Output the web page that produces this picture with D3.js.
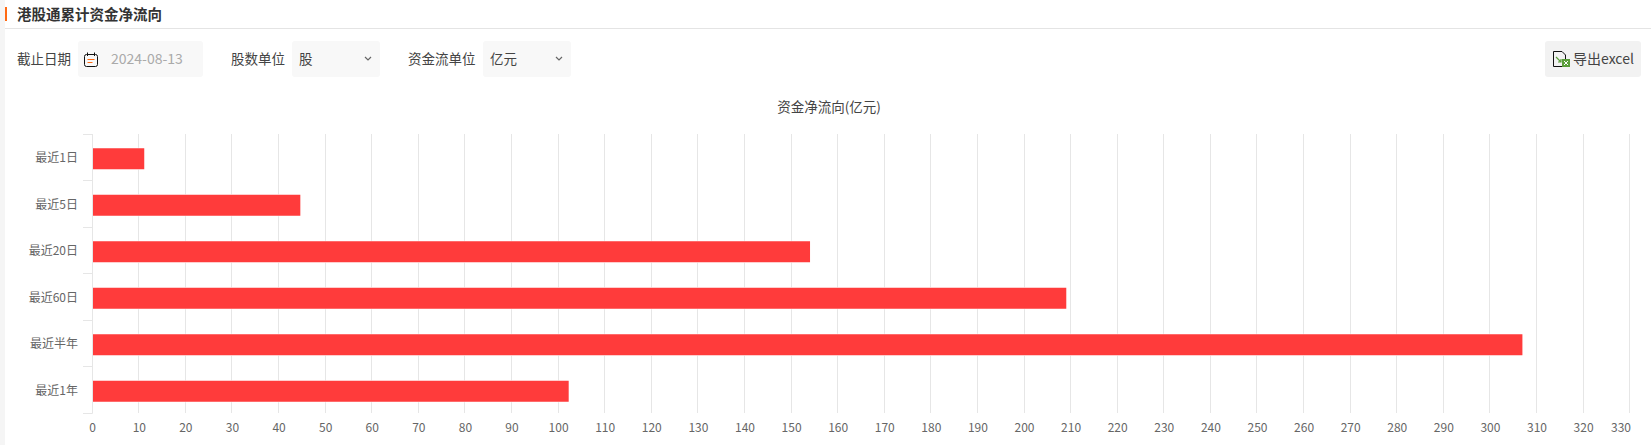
<!DOCTYPE html>
<html><head><meta charset="utf-8">
<script src="https://cdnjs.cloudflare.com/ajax/libs/d3/7.8.5/d3.min.js"></script>
<style>
html,body{margin:0;padding:0;background:#fff;overflow:hidden}
svg{display:block}
text{font-family:"Noto Sans CJK SC","Noto Sans",sans-serif}
</style></head><body>
<svg id="c" width="1651" height="445"></svg>
<script>
const categories=["最近1日","最近5日","最近20日","最近60日","最近半年","最近1年"];
const netFlow=[11,44.5,153.9,208.9,306.8,102.1];
const xTicks=d3.range(0,331,10);
const svg=d3.select("#c");
const ui="#444";

// page chrome
svg.append("rect").attr("x",0).attr("y",0).attr("width",5).attr("height",445).attr("fill","#f5f5f5");
svg.append("rect").attr("x",5).attr("y",7).attr("width",2).attr("height",14).attr("fill","#ff6a13");
svg.append("rect").attr("x",5).attr("y",28).attr("width",1646).attr("height",1).attr("fill","#e4e4e4");
svg.append("text").attr("x",17).attr("y",20).attr("font-size",14.5).attr("font-weight",700).attr("fill","#333").text("港股通累计资金净流向");

// controls
const boxes=[[78,125,"#f8f8f8"],[292,88,"#f8f8f8"],[483,88,"#f8f8f8"],[1545,96,"#f2f2f2"]];
boxes.forEach(b=>svg.append("rect").attr("x",b[0]).attr("y",41).attr("width",b[1]).attr("height",36).attr("rx",3).attr("fill",b[2]));
const lab=(x,t,c,fs)=>svg.append("text").attr("x",x).attr("y",64).attr("font-size",fs||13.5).attr("fill",c||ui).text(t);
lab(17,"截止日期");
lab(231,"股数单位");
lab(408,"资金流单位");
lab(111,"2024-08-13","#aaa",14);
lab(299,"股");
lab(490,"亿元");
lab(1573,"导出excel","#444",14);

// chevrons
[[368],[559]].forEach(([x])=>svg.append("path").attr("d",`M${x-3},57 L${x},60 L${x+3},57`).attr("fill","none").attr("stroke","#666").attr("stroke-width",1.2));

// calendar icon
const cal=svg.append("g").attr("transform","translate(84,52)");
cal.append("rect").attr("x",.5).attr("y",2.5).attr("width",13).attr("height",12).attr("rx",2).attr("fill","none").attr("stroke","#111").attr("stroke-width",1);
cal.append("path").attr("d","M3.5,.5V4M10.5,.5V4").attr("stroke","#111").attr("stroke-width",1);
cal.append("path").attr("d","M3.5,7.5H10.5M3.5,10.5H8.5").attr("stroke","#ff6a13").attr("stroke-width",1);

// excel icon
const xl=svg.append("g").attr("transform","translate(1553,51)");
xl.append("path").attr("d","M.5,.5H9L12.5,4V15.5H.5Z").attr("fill","none").attr("stroke","#111").attr("stroke-width",1);
xl.append("path").attr("d","M3,6L8,11M8,8V11H5").attr("fill","none").attr("stroke","#5a9e3a").attr("stroke-width",1.2);
xl.append("rect").attr("x",9).attr("y",8).attr("width",8).attr("height",8).attr("fill","#5a9e3a");
xl.append("path").attr("d","M11,10L15,14M15,10L11,14").attr("stroke","#fff").attr("stroke-width",1);

// chart
const x=d3.scaleLinear().domain([0,330]).range([92.7,1630.2]);
const y=d3.scaleBand().domain(categories).range([134.5,413.5]);
const snap=v=>Math.round(v)+.5-1;

svg.append("text").attr("x",829).attr("y",112).attr("text-anchor","middle").attr("font-size",13.5).attr("fill","#444").text("资金净流向(亿元)");

svg.append("g").selectAll("line").data(xTicks.slice(1)).join("line")
 .attr("x1",d=>snap(x(d))).attr("x2",d=>snap(x(d))).attr("y1",134).attr("y2",413)
 .attr("stroke","#e6e6e6").attr("stroke-width",1);

svg.append("g").selectAll("rect").data(netFlow).join("rect")
 .attr("x",x(0)+.3)
 .attr("y",(d,i)=>y(categories[i])+y.bandwidth()/2-9.5)
 .attr("width",d=>x(d)-x(0))
 .attr("height",21)
 .attr("fill","#ff3b3b").attr("stroke","#fff").attr("stroke-width",1).attr("paint-order","stroke");

// y axis line, ticks, labels
const ax=svg.append("g");
ax.append("line").attr("x1",92.5).attr("x2",92.5).attr("y1",134).attr("y2",413.5).attr("stroke","#e6e6e6");
const yEdges=categories.map(c=>y(c)).concat([y.range()[1]]);
ax.selectAll("line.t").data(yEdges).join("line").attr("class","t")
 .attr("x1",83).attr("x2",92.5).attr("y1",d=>Math.round(d)-.5).attr("y2",d=>Math.round(d)-.5).attr("stroke","#e6e6e6");
ax.selectAll("text.c").data(categories).join("text").attr("class","c")
 .attr("x",78).attr("y",d=>y(d)+y.bandwidth()/2+4.5)
 .attr("text-anchor","end").attr("font-size",12).attr("fill","#666").text(d=>d);

// x labels
svg.append("g").selectAll("text").data(xTicks).join("text")
 .attr("x",d=>d===330?1631:x(d)).attr("y",432)
 .attr("text-anchor",d=>d===330?"end":"middle").attr("font-size",12).attr("fill","#666").text(d=>d);
</script>
</body></html>
